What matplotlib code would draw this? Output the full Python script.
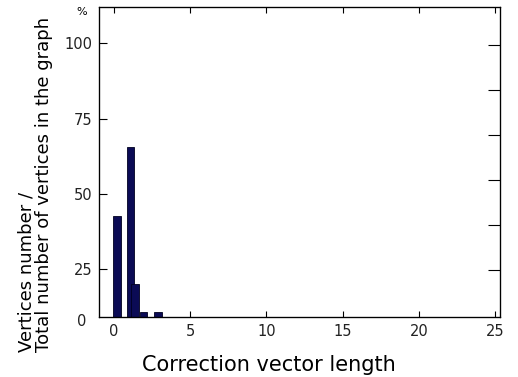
import numpy as np
import matplotlib
matplotlib.use('Agg')
import matplotlib.pyplot as plt

matplotlib.rc('font', **{'family': 'sans-serif',
                         'sans-serif': ['DejaVu Sans'], 'size': 9})

# histogram of correction vector lengths
bin_pos = [0.22, 1.1, 1.4, 1.97, 2.9]
share = [42.7, 65.5, 20.1, 10.9, 10.9]

xticks = [0, 5, 10, 15, 20, 25]
yticks = [25, 50, 75, 100]

fig = plt.figure(figsize=(5.18, 3.77), dpi=100)
ax = fig.add_axes([0.1917, 0.160, 0.7736, 0.8206])

ax.bar(bin_pos, share, width=0.48, color='#0b0b55', edgecolor='#000020',
       lw=0.6, zorder=2)

ax.set_xlim(-0.94, 25.3)
ax.set_ylim(9.3, 111.9)
ax.set_xticks(xticks)
ax.set_yticks(yticks)
ax.tick_params(direction='in', length=6, width=0.8, pad=5, labelsize=10.5,
               labelcolor='#222222')
ax.tick_params(axis='x', top=True, length=4, pad=5)
for sp in ax.spines.values():
    sp.set_linewidth(0.9)

# the unlabelled ticks on the right hand side
ax2 = ax.twinx()
ax2.set_ylim(-0.035, 6.83)
ax2.set_yticks([1, 2, 3, 4, 5, 6])
ax2.set_yticklabels([])
ax2.tick_params(direction='in', length=9, width=0.8)

ax.text(-0.032, -0.015, '0', transform=ax.transAxes, ha='right', va='center',
        fontsize=10.5, color='#222222')
ax.text(-0.045, 0.985, '%', transform=ax.transAxes, ha='center',
        va='center', fontsize=8)

ax.set_xlabel('Correction vector length', fontsize=15)
ax.xaxis.set_label_coords(0.4235, -0.125)
fig.text(0.068, 0.066, 'Vertices number /\nTotal number of vertices in the graph',
         rotation=90, ha='center', va='bottom', multialignment='left',
         fontsize=13, linespacing=1.0)

fig.savefig('out.png', dpi=100)
